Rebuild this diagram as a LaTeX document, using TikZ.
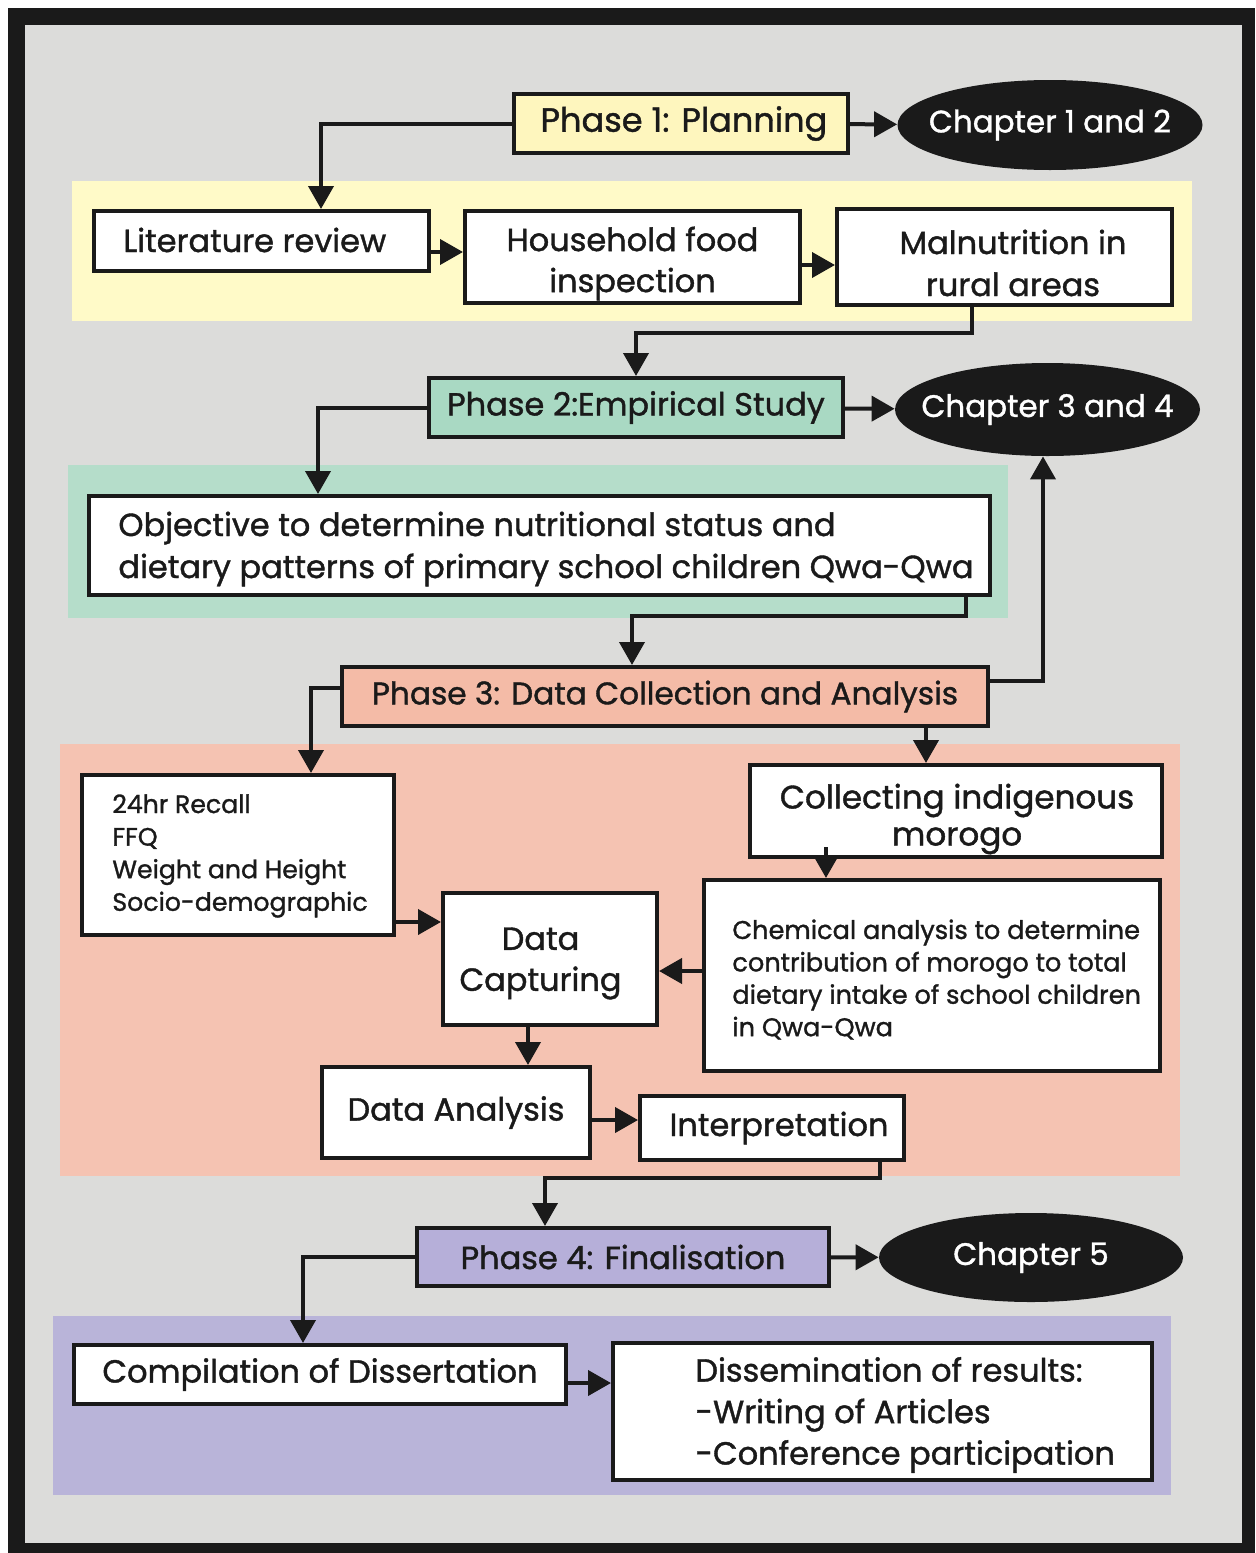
\documentclass[tikz,border=0pt]{standalone}
\usepackage{fontspec}
\setmainfont{Poppins}[FakeBold=1.2]
\usetikzlibrary{arrows.meta,shapes.geometric}
\definecolor{ink}{HTML}{1A1A1A}
\definecolor{bggrey}{HTML}{DCDCDA}
\definecolor{ypanel}{HTML}{FFFAC8}
\definecolor{ybox}{HTML}{FEF6BE}
\definecolor{gpanel}{HTML}{B5DDCA}
\definecolor{gbox}{HTML}{A9D9C3}
\definecolor{spanel}{HTML}{F5C3B2}
\definecolor{sbox}{HTML}{F4BBA7}
\definecolor{ppanel}{HTML}{B9B4D9}
\definecolor{pbox}{HTML}{B6AFD9}
\begin{document}
\begin{tikzpicture}[x=0.5pt,y=-0.5pt,
  box/.style={draw=ink,line width=2pt,fill=white,inner sep=0pt,align=center,text=ink},
  sz/.style 2 args={minimum width=#1,minimum height=#2},
  arr/.style={draw=ink,line width=2pt,-{Triangle[length=11.5pt,width=12.5pt]}},
  chap/.style={ellipse,fill=ink,text=white,inner sep=0pt},
  lbl/.style={inner sep=0pt,text=ink},
  big/.style={font=\fontsize{16}{20}\selectfont},
]
% frame
\fill[white] (0,0) rectangle (1255,1553);
\fill[ink] (8,8) rectangle (1255,1553);
\fill[bggrey] (25,25) rectangle (1242,1543);
% panels
\fill[ypanel] (72,181) rectangle (1192,321);
\fill[gpanel] (68,465) rectangle (1008,618);
\fill[spanel] (60,744) rectangle (1180,1176);
\fill[ppanel] (53,1316) rectangle (1171,1495);
% helper coordinates (x positions of connectors)
\coordinate (k1) at (321,0);
\coordinate (k2) at (318,0);
\coordinate (k3) at (632,0);
\coordinate (k4) at (311,0);
\coordinate (k5) at (926,0);
\coordinate (k6) at (545,0);
\coordinate (k7) at (303,0);
\coordinate (k8) at (1043,0);
% phase 1
\node[box,fill=ybox,sz={167pt}{29.5pt},font=\fontsize{16.8}{20}\selectfont] (p1) at (681,123.5) {\hspace*{3pt}Phase 1: Planning};
\node[chap,sz={152.5pt}{45pt},font=\fontsize{15.5}{20}\selectfont] (ch12) at (1050,125) {\makebox[0pt]{Chapter 1 and 2}};
\node[box,sz={167.5pt}{30pt}] (lit) at (261.5,241) {};
\node[lbl,anchor=west,big] (litT) at (123,240) {Literature review};
\node[box,sz={167.5pt}{46pt}] (hfi) at (632.5,257) {};
\node[lbl,big,align=center,font=\fontsize{16}{20.5}\selectfont] (hfiT) at (632.5,263.5) {Household food\\inspection};
\node[box,sz={167.5pt}{48pt}] (mal) at (1004.5,257) {};
\node[lbl,big,align=center,font=\fontsize{16}{21}\selectfont] (malT) at (1013,263) {Malnutrition in\\rural areas};
% phase 2
\node[box,fill=gbox,sz={207pt}{29.5pt},big] (p2) at (636,407.5) {Phase 2:Empirical Study};
\node[chap,sz={152.5pt}{46.5pt},font=\fontsize{15.5}{20}\selectfont] (ch34) at (1047.5,409.5) {\makebox[0pt]{Chapter 3 and 4}};
\node[box,sz={450.5pt}{49.5pt}] (obj) at (539.5,545.5) {};
\node[lbl,anchor=west,align=left,font=\fontsize{16}{21}\selectfont] (objT) at (118,549) {Objective to determine nutritional status and\\dietary patterns of primary school children Qwa-Qwa};
% phase 3
\node[box,fill=sbox,sz={323pt}{29.5pt},font=\fontsize{15.6}{20}\selectfont] (p3) at (665,696.5) {Phase 3: Data Collection and Analysis};
\node[box,sz={156pt}{80pt}] (h24) at (238,855) {};
\node[lbl,anchor=west,align=left,font=\fontsize{12.6}{16.3}\selectfont] (h24T) at (112,856) {24hr Recall\\FFQ\\Weight and Height\\Socio-demographic};
\node[box,sz={206pt}{46pt}] (col) at (956,811) {};
\node[lbl,align=center,font=\fontsize{16.3}{18.5}\selectfont] (colT) at (957,819) {Collecting indigenous\\morogo};
\node[box,sz={228pt}{95.5pt}] (chem) at (932,975.5) {};
\node[lbl,anchor=west,align=left,font=\fontsize{12.8}{16.2}\selectfont] (chemT) at (732,979.5) {Chemical analysis to determine\\contribution of morogo to total\\dietary intake of school children\\in Qwa-Qwa};
\node[box,sz={107pt}{66pt}] (cap) at (550,959) {};
\node[lbl,align=center,font=\fontsize{16}{20.5}\selectfont] (capT) at (540.5,963.5) {Data\\Capturing};
\node[box,sz={134pt}{45.5pt},big] (ana) at (456,1112.5) {Data Analysis};
\node[box,sz={132pt}{32pt},big] (int) at (772,1128) {\hspace*{7pt}Interpretation};
% phase 4
\node[box,fill=pbox,sz={206pt}{29pt},big] (p4) at (623,1257) {Phase 4: Finalisation};
\node[chap,sz={152pt}{44.5pt},font=\fontsize{15.5}{20}\selectfont] (ch5) at (1031,1257.5) {\makebox[0pt]{Chapter 5}};
\node[box,sz={246pt}{29.5pt},big] (comp) at (320,1374.5) {Compilation of Dissertation};
\node[box,sz={269.5pt}{68.5pt}] (dis) at (882.5,1411.5) {};
\node[lbl,anchor=west,align=left,font=\fontsize{16}{20.75}\selectfont] (disT) at (695,1415) {Dissemination of results:\\-Writing of Articles\\-Conference participation};
% connectors
\draw[arr] (p1.west) -| (lit.north -| k1);
\draw[arr] (p1) -- (ch12);
\draw[arr] ([yshift=-5.5pt]lit.east) -- ([yshift=-5.5pt]lit.east -| hfi.west);
\draw[arr] ([yshift=-4pt]hfi.east) -- ([yshift=-4pt]hfi.east -| mal.west);
\draw[arr] ([xshift=-16.25pt]mal.south) -- ++(0,26) -| (p2.north);
\draw[arr] (p2) -- (ch34);
\draw[arr] (p2.west) -| (obj.north -| k2);
\draw[arr] ([xshift=213.25pt]obj.south) -- ++(0,19) -| (p3.north -| k3);
\draw[arr] ([yshift=7.75pt]p3.east) -| (ch34.south -| k8);
\draw[arr] ([yshift=4.25pt]p3.west) -| (h24.north -| k4);
\draw[arr] (p3.south -| k5) -- (col.north -| k5);
\draw[arr] ([yshift=-33.5pt]h24.east) -- ([yshift=-33.5pt]h24.east -| cap.west);
\draw[arr] ([yshift=2.25pt]chem.west) -- ([yshift=2.25pt]chem.west -| cap.east);
\draw[arr] ([xshift=-65pt,yshift=6pt]col.south) -- ([xshift=-65pt]col.south |- chem.north);
\draw[arr] ([xshift=-11pt]cap.south) -- ([xshift=-11pt]cap.south |- ana.north);
\draw[arr] ([yshift=-3.75pt]ana.east) -- ([yshift=-3.75pt]ana.east -| int.west);
\draw[arr] ([xshift=54pt,yshift=2pt]int.south) -- ++(0,20) -| (p4.north -| k6);
\draw[arr] (p4) -- (ch5);
\draw[arr] (p4.west) -| (comp.north -| k7);
\draw[arr] ([yshift=-4.25pt]comp.east) -- ([yshift=-4.25pt]comp.east -| dis.west);
\end{tikzpicture}
\end{document}
